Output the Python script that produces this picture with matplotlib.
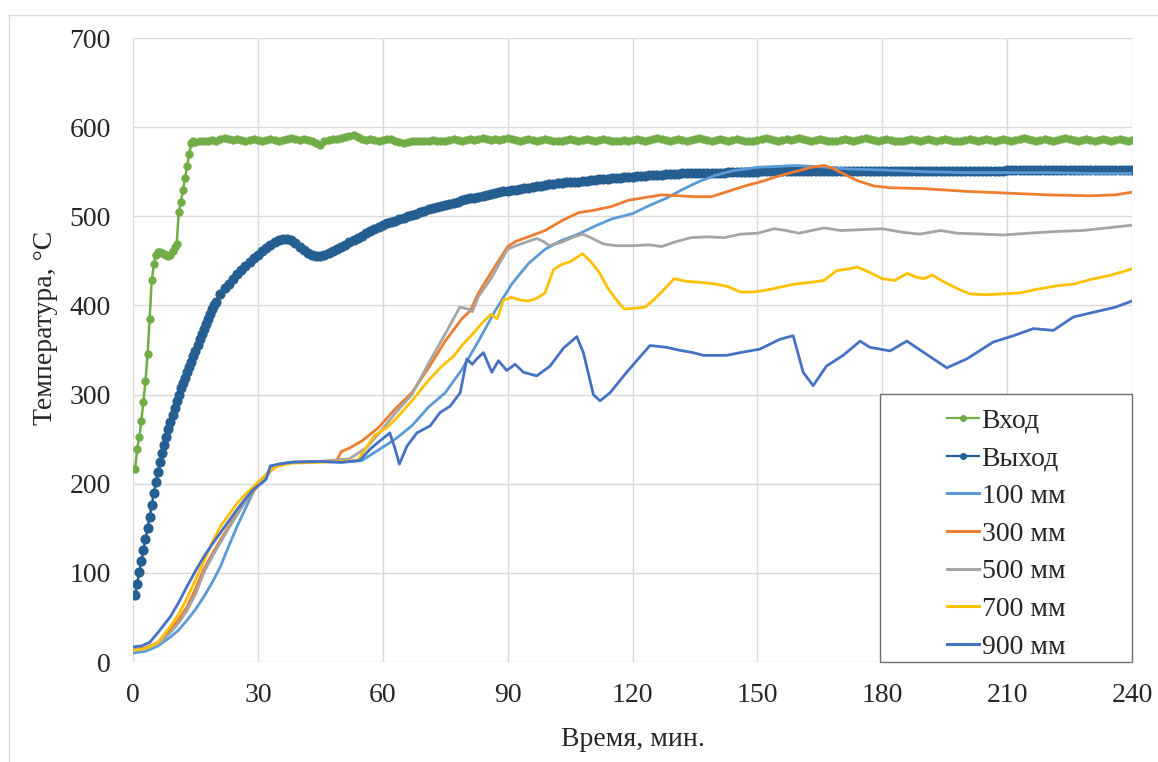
import numpy as np
import matplotlib
matplotlib.use("Agg")
import matplotlib.pyplot as plt
from matplotlib.lines import Line2D
from matplotlib.patches import Rectangle

plt.rcParams['font.family'] = ['Liberation Serif', 'DejaVu Serif']
plt.rcParams['font.size'] = 20

# ---------------- data ----------------
x_ticks = [0, 30, 60, 90, 120, 150, 180, 210, 240]
y_ticks = [0, 100, 200, 300, 400, 500, 600, 700]
labels = ["Вход", "Выход", "100 мм", "300 мм", "500 мм", "700 мм", "900 мм"]

# Inlet gas temperature: 30 s logging during heat-up, 1 min afterwards
t_inlet_fast = np.arange(0.5, 14.6, 0.5)
inlet_fast = [216, 239, 252, 270, 292, 315, 345, 385, 428, 446,
              457, 460, 460, 459, 458, 457, 456, 457, 461, 465,
              469, 505, 516, 529, 543, 556, 570, 582, 584]
t_inlet_slow = np.arange(15, 241, 1)
inlet_slow = [583, 584, 585, 584, 586, 585, 587, 588, 587, 586, 587, 586, 585, 586, 587,
              586, 585, 586, 587, 586, 585, 586, 587, 588, 587, 586, 587, 586, 585, 582,
              580, 584, 586, 587, 587, 588, 589, 590, 591, 589, 587, 586, 587, 586, 585,
              586, 587, 587, 585, 583, 582, 583, 584, 585, 585, 584, 585, 586, 585, 584,
              585, 586, 587, 586, 585, 586, 587, 586, 587, 588, 587, 586, 587, 586, 587,
              588, 587, 586, 585, 586, 587, 586, 585, 586, 587, 586, 585, 584, 585, 586,
              587, 586, 585, 586, 587, 586, 585, 586, 587, 586, 585, 584, 585, 586, 585,
              586, 587, 586, 585, 586, 587, 588, 587, 586, 585, 586, 587, 586, 585, 586,
              587, 588, 587, 586, 585, 586, 587, 586, 585, 586, 587, 586, 585, 584, 585,
              586, 587, 588, 587, 586, 585, 586, 587, 586, 587, 588, 587, 586, 585, 586,
              587, 586, 585, 584, 585, 586, 587, 586, 585, 586, 587, 588, 587, 586, 585,
              586, 587, 586, 585, 584, 585, 586, 587, 586, 585, 586, 587, 586, 585, 586,
              587, 586, 585, 584, 585, 586, 587, 586, 585, 586, 587, 586, 585, 586, 587,
              586, 585, 586, 587, 588, 587, 586, 585, 586, 587, 586, 585, 586, 587, 588,
              587, 586, 585, 586, 587, 586, 585, 586, 587, 586, 585, 586, 587, 586, 585,
              586]

# Outlet gas temperature
t_outlet_fast = np.arange(0.5, 20.1, 0.5)
outlet_fast = [75, 88, 101, 113, 126, 138, 150, 163, 176, 190,
               202, 213, 224, 234, 243, 252, 261, 269, 277, 285,
               293, 300, 307, 313, 319, 325, 331, 337, 343, 349,
               356, 362, 368, 374, 379, 385, 390, 396, 400, 404]
t_outlet_slow = np.arange(21, 241, 1)
outlet_slow = [413, 419, 424, 430, 435, 440, 444, 449, 453, 457,
               461, 464, 468, 471, 473, 474, 474, 473, 470, 466,
               462, 459, 457, 456, 456, 457, 459, 461, 463, 466,
               468, 471, 473, 476, 478, 481, 483, 486, 488, 490,
               492, 494, 495, 497, 498, 500, 502, 503, 505, 506,
               508, 509, 510, 511, 513, 514, 515, 516, 518, 519,
               520, 521, 522, 523, 524, 525, 526, 527, 528, 528,
               529, 530, 531, 532, 532, 533, 534, 534, 535, 536,
               536, 537, 537, 538, 538, 539, 539, 540, 540, 541,
               541, 542, 542, 542, 543, 543, 543, 544, 544, 544,
               545, 545, 545, 546, 546, 546, 546, 547, 547, 547,
               547, 548, 548, 548, 548, 548, 549, 549, 549, 549,
               549, 549, 550, 550, 550, 550, 550, 550, 550, 550,
               551, 551, 551, 551, 551, 551, 551, 551, 551, 551,
               551, 551, 551, 551, 551, 551, 551, 551, 551, 551,
               551, 551, 551, 551, 551, 551, 551, 551, 551, 551,
               551, 551, 551, 551, 551, 551, 551, 551, 551, 551,
               551, 551, 551, 551, 551, 551, 551, 551, 551, 551,
               551, 551, 551, 551, 551, 551, 551, 551, 551, 552,
               552, 552, 552, 552, 552, 552, 552, 552, 552, 552,
               552, 552, 552, 552, 552, 552, 552, 552, 552, 552,
               552, 552, 552, 552, 552, 552, 552, 552, 552, 552]

# Bed temperatures at depth
t_100 = [0, 3, 6, 9, 11, 13, 15, 17, 19, 21, 23, 25, 27, 29, 31, 33, 35, 38, 45, 50,
         55, 59, 63, 67, 71, 75, 79, 83, 87, 91, 95, 99, 103, 107, 111, 115, 120, 124,
         128, 132, 136, 140, 144, 150, 155, 159, 163, 167, 172, 180, 190, 200, 210,
         220, 230, 240]
T_100 = [10, 12, 18, 28, 36, 47, 59, 73, 89, 107, 130, 152, 172, 192, 205, 216, 222,
         224, 225, 224, 226, 238, 250, 265, 286, 302, 328, 360, 394, 424, 447, 463, 473,
         480, 489, 497, 503, 512, 520, 530, 539, 546, 551, 555, 556, 557, 556, 555, 553,
         552, 550, 549, 549, 549, 548, 548]

t_300 = [0, 3, 6, 9, 11, 13, 15, 17, 19, 21, 23, 25, 27, 29, 31, 33, 35, 38, 45, 49,
         50, 52, 55, 59, 63, 67, 71, 75, 79, 81, 83, 87, 90, 92, 95, 99, 103, 107, 111,
         115, 119, 123, 127, 131, 135, 139, 143, 147, 151, 155, 159, 163, 166, 168, 171,
         174, 178, 182, 190, 200, 210, 220, 230, 236, 240]
T_300 = [14, 16, 22, 36, 48, 62, 82, 104, 121, 137, 152, 166, 180, 192, 203, 214, 221,
         224, 225, 226, 236, 240, 248, 263, 284, 302, 330, 360, 385, 394, 414, 444, 466,
         472, 477, 484, 495, 504, 507, 511, 518, 521, 524, 523, 522, 522, 528, 534, 539,
         545, 550, 555, 557, 554, 547, 540, 534, 532, 531, 528, 526, 524, 523, 524, 527]

t_500 = [0, 3, 6, 9, 11, 13, 15, 17, 19, 21, 23, 25, 27, 29, 31, 33, 35, 38, 45, 52,
         56, 59, 63, 67, 71, 75, 77, 78.5, 80.5, 81.5, 83, 86, 88, 90, 92, 95, 97, 98.5,
         100, 103, 106, 108, 110, 113, 116, 120, 124, 127, 130, 134, 138, 142, 146, 150,
         154, 157, 160, 163, 166, 170, 175, 180, 185, 189, 194, 198, 204, 209, 215, 222,
         228, 234, 240]
T_500 = [14, 15, 20, 33, 44, 58, 76, 100, 118, 134, 150, 165, 180, 193, 204, 215, 221,
         224, 225, 228, 240, 256, 279, 300, 335, 368, 385, 398, 396, 393, 410, 430, 447,
         463, 467, 472, 475, 472, 467, 471, 477, 480, 476, 469, 467, 467, 468, 466, 471,
         476, 477, 476, 480, 481, 486, 484, 481, 484, 487, 484, 485, 486, 482, 480, 484,
         481, 480, 479, 481, 483, 484, 487, 490]

t_700 = [0, 3, 6, 9, 11, 13, 15, 17, 19, 21, 23, 25, 27, 29, 31, 33, 35, 38, 45, 54,
         56, 58, 61, 63, 67, 71, 74, 77, 79, 82, 84, 86, 87.5, 89, 91, 93, 95, 97, 99,
         101, 103, 105, 107, 108, 110, 112, 114, 116, 118, 121, 123, 125, 127, 130, 133,
         136, 140, 143, 146, 149, 152, 156, 159, 163, 166, 169, 172, 174, 177, 180, 183,
         186, 188, 190, 192, 195, 198, 201, 205, 209, 213, 217, 222, 226, 230, 235, 240]
T_700 = [13, 15, 22, 40, 54, 72, 92, 113, 134, 152, 165, 178, 188, 197, 206, 215, 220,
         223, 224, 226, 240, 254, 263, 272, 293, 316, 331, 343, 355, 370, 381, 390, 385,
         406, 409, 406, 405, 408, 414, 440, 446, 449, 455, 458, 449, 437, 420, 407, 396,
         397, 398, 406, 415, 430, 427, 426, 424, 421, 415, 415, 417, 421, 424, 426, 428,
         439, 441, 443, 437, 430, 428, 436, 432, 430, 434, 426, 419, 413, 412, 413, 414,
         418, 422, 424, 429, 434, 441]

t_900 = [0, 2, 4, 6, 9, 11, 13, 15, 17, 19, 21, 23, 25, 27, 29, 31, 32, 33, 35, 38, 45,
         50, 54.5, 57, 59.3, 61.7, 62.9, 64, 65.8, 68.2, 71.4, 73.8, 76.2, 78.6, 80.2,
         81.5, 82.6, 84.2, 86.2, 87.8, 89.8, 91.8, 93.8, 97, 100.2, 103.4, 106.6, 108.2,
         110.6, 112.2, 114.6, 118.6, 121, 124.2, 128.2, 131, 134.6, 137, 142.6, 145.8,
         150.6, 155.4, 158.6, 161, 163.4, 166.6, 170.6, 174.7, 177, 181.9, 185.9, 190.7,
         195.5, 200.3, 206.7, 211.5, 216.3, 221.1, 225.9, 232.3, 236, 240]
T_900 = [17, 18, 22, 33, 51, 67, 85, 102, 118, 132, 145, 158, 171, 183, 194, 201, 205,
         220, 222, 224, 225, 224, 226, 239, 248, 257, 240, 222, 242, 257, 265, 280, 287,
         302, 340, 334, 340, 347, 325, 338, 327, 334, 325, 321, 332, 352, 365, 347, 300,
         293, 302, 325, 338, 355, 353, 350, 347, 344, 344, 347, 351, 362, 366, 325, 310,
         332, 344, 360, 353, 349, 360, 345, 330, 340, 359, 366, 374, 372, 387, 394, 398,
         405]

# ---------------- styling ----------------
c_in = '#70AD47'
c_out = '#255E91'
c_100 = '#5B9BD5'
c_300 = '#ED7D31'
c_500 = '#A5A5A5'
c_700 = '#FFC000'
c_900 = '#4472C4'
text_c = '#262626'
grid_c = '#d9d9d9'

W, H = 1158, 762
fig = plt.figure(figsize=(W / 100, H / 100), dpi=100)
ax = fig.add_axes([133 / W, 1 - 662 / H, (1132 - 133) / W, (662 - 38) / H])

t_in = np.concatenate([t_inlet_fast, t_inlet_slow])
T_in = np.array(inlet_fast + inlet_slow)
t_out = np.concatenate([t_outlet_fast, t_outlet_slow])
T_out = np.array(outlet_fast + outlet_slow)

ax.plot(t_in, T_in, color=c_in, lw=1.8, marker='o', ms=5.0, mec=c_in, mfc=c_in,
        zorder=3)
ax.plot(t_out, T_out, color=c_out, lw=1.8, marker='o', ms=6.3, mec=c_out, mfc=c_out,
        zorder=3)
lw = 2.0
ax.plot(t_100, T_100, color=c_100, lw=lw, zorder=4)
ax.plot(t_300, T_300, color=c_300, lw=lw, zorder=4)
ax.plot(t_500, T_500, color=c_500, lw=lw, zorder=4)
ax.plot(t_700, T_700, color=c_700, lw=lw, zorder=4)
ax.plot(t_900, T_900, color=c_900, lw=lw, zorder=4)

ax.set_xlim(0, 240)
ax.set_ylim(0, 700)
ax.set_xticks(x_ticks)
ax.set_yticks(y_ticks)
ax.grid(True, color=grid_c, lw=1.0, zorder=0)
ax.set_axisbelow(True)
for s in ax.spines.values():
    s.set_visible(False)
ax.tick_params(length=0, labelcolor=text_c, labelsize=20)
ax.tick_params(axis='x', pad=15)
ax.tick_params(axis='y', pad=16)

ax.set_xlabel('Время, мин.', color=text_c, fontsize=20)
ax.xaxis.set_label_coords(0.5, -0.104)
ax.set_ylabel('Температура, °C', color=text_c, fontsize=20)
ax.yaxis.set_label_coords(-0.075, 0.535)

# legend box in the lower-right corner of the plot area
bx0 = (880 - 133) / (1132 - 133)
bh = (662 - 394) / (662 - 38)
ax.add_patch(Rectangle((bx0, 0), 1 - bx0, bh, transform=ax.transAxes,
                       facecolor='white', edgecolor='#6e6e6e', lw=1.0, zorder=6,
                       clip_on=False))
handles = [
    Line2D([], [], color=c_in, lw=1.6, marker='o', ms=4),
    Line2D([], [], color=c_out, lw=1.6, marker='o', ms=4),
    Line2D([], [], color=c_100, lw=2.2),
    Line2D([], [], color=c_300, lw=2.2),
    Line2D([], [], color=c_500, lw=2.2),
    Line2D([], [], color=c_700, lw=2.2),
    Line2D([], [], color=c_900, lw=2.2),
]
shift = 6 / (662 - 38)
leg = ax.legend(handles, labels, loc='center',
                bbox_to_anchor=(bx0, -shift, 1 - bx0, bh),
                frameon=False, fontsize=20, handlelength=1.15, handletextpad=0.1,
                labelspacing=0.44, borderaxespad=0, numpoints=1)
leg.set_zorder(7)
for txt in leg.get_texts():
    txt.set_color(text_c)

# outer chart border
fig.add_artist(Line2D([9 / W, 9 / W], [0, 1 - 15 / H], color=grid_c, lw=1.0))
fig.add_artist(Line2D([9 / W, 1], [1 - 15 / H, 1 - 15 / H], color=grid_c, lw=1.0))

fig.savefig('out.png', dpi=100, facecolor='white')
